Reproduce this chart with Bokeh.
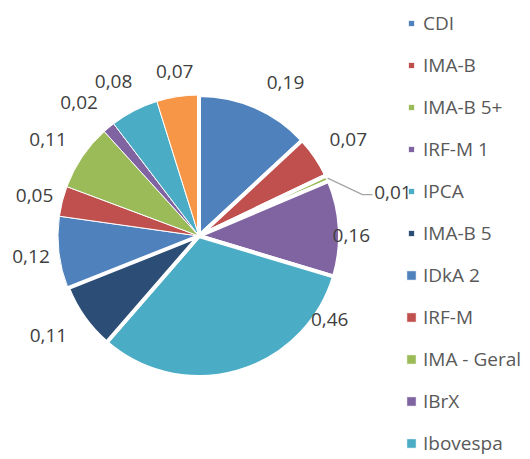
import numpy as np
from bokeh.plotting import figure
from bokeh.models import (ColumnDataSource, Legend, LegendItem, CDSView,
                          IndexFilter, Range1d)
from bokeh.embed import file_html
from bokeh.resources import INLINE
from bokeh.core.properties import value

# ---------------- data ----------------
categories = ["CDI", "IMA-B", "IMA-B 5+", "IRF-M 1", "IPCA", "IMA-B 5",
              "IDkA 2", "IRF-M", "IMA - Geral", "IBrX", "Ibovespa", "Outros"]
values = [0.19, 0.07, 0.01, 0.16, 0.46, 0.11, 0.12, 0.05, 0.11, 0.02, 0.08, 0.07]
colors = ["#4F81BD", "#C0504D", "#9BBB59", "#8064A2", "#4BACC6", "#2C4D75",
          "#4F81BD", "#C0504D", "#9BBB59", "#8064A2", "#4BACC6", "#F79646"]
legend_shown = 11  # the last legend entry is cut off in the original

# ---------------- label placement styling ----------------
label_nudge_deg = [5.8, 1.3, 11.5, 2.8, -41.3, 1.9, 0.0, -0.6, -1.6, -2.3, -1.7, 0.3]
label_rf = [1.25, 1.26, 1.41, 1.08, 1.10, 1.28, 1.20, 1.20, 1.27, 1.27, 1.25, 1.18]
leader_index = 2
leader_elbow_rf = 1.196
leader_elbow_nudge = 10.0
leader_tail = 10.0

# ---------------- geometry ----------------
W, H = 530, 459
IMG_H = 459
cx, cy, R = 198.5, IMG_H - 235.5, 141.0

vals = np.array(values, dtype=float)
frac = vals / vals.sum()
cum_end = np.cumsum(frac)
cum_start = cum_end - frac
start_angle = np.pi / 2 - 2 * np.pi * cum_start
end_angle = np.pi / 2 - 2 * np.pi * cum_end
mid_cw = (cum_start + frac / 2) * 360.0  # degrees clockwise from top

lab_cw = np.radians(mid_cw + np.array(label_nudge_deg))
lab_r = R * np.array(label_rf)
lab_x = cx + lab_r * np.sin(lab_cw)
lab_y = cy + lab_r * np.cos(lab_cw)
labels = [("%.2f" % v).replace(".", ",") for v in values]

line_w = [4 if i < 6 else 1 for i in range(len(values))]

src = ColumnDataSource(dict(cat=categories, val=values, color=colors,
                            start=start_angle, end=end_angle, lw=line_w))

p = figure(width=W, height=H, x_range=Range1d(0, W), y_range=Range1d(IMG_H - H, IMG_H),
           x_axis_type=None, y_axis_type=None, toolbar_location=None,
           output_backend="svg", title=None, min_border=0)
p.outline_line_color = None
p.grid.visible = False
p.background_fill_color = "white"
p.border_fill_color = "white"

r_all = p.wedge(x=cx, y=cy, radius=R, start_angle="start", end_angle="end",
                direction="clock", fill_color="color", line_color="#FFFFFF",
                line_width=1, source=src)
view_thick = CDSView(filter=IndexFilter(list(range(6))))
p.wedge(x=cx, y=cy, radius=R, start_angle="start", end_angle="end",
        direction="clock", fill_color="color", line_color="#FFFFFF",
        line_width=4, source=src, view=view_thick)

# leader line for the tiny slice
a0 = np.radians(mid_cw[leader_index])
a1 = np.radians(mid_cw[leader_index] + leader_elbow_nudge)
x0, y0 = cx + R * np.sin(a0), cy + R * np.cos(a0)
x1, y1 = cx + R * leader_elbow_rf * np.sin(a1), cy + R * leader_elbow_rf * np.cos(a1)
p.line([x0, x1, x1 + leader_tail], [y0, y1, y1], line_color="#A6A6A6", line_width=1.3)

lab_src = ColumnDataSource(dict(x=lab_x, y=lab_y, text=labels))
p.text(x="x", y="y", text="text", source=lab_src, text_align="center",
       text_baseline="middle", text_font=value("Open Sans"),
       text_font_size="19px", text_color="#404040")

# legends (two groups, as glyph sizes differ in the original)
ITEM_H = 26
def make_legend(idx, glyph, standoff, vx, vy, spacing):
    items = [LegendItem(label=categories[i], renderers=[r_all], index=i) for i in idx]
    lg = Legend(items=items, location=(vx, vy), orientation="vertical",
                glyph_width=glyph, glyph_height=glyph, label_standoff=standoff,
                label_height=ITEM_H, spacing=spacing, padding=0, margin=0,
                border_line_color=None, background_fill_alpha=0,
                label_text_font="Open Sans", label_text_font_size="19px",
                label_text_color="#595959")
    return lg

pitch = 42
first_c = 23
spacing = pitch - ITEM_H
idx_a = list(range(6))
idx_b = list(range(6, legend_shown))
top_a = first_c - ITEM_H / 2
h_a = len(idx_a) * ITEM_H + (len(idx_a) - 1) * spacing
top_b = first_c + len(idx_a) * pitch - ITEM_H / 2
h_b = len(idx_b) * ITEM_H + (len(idx_b) - 1) * spacing
leg_a = make_legend(idx_a, 8, 8, 407, H - (top_a + h_a), spacing)
leg_b = make_legend(idx_b, 12, 6, 405, H - (top_b + h_b), spacing)
p.add_layout(leg_a)
p.add_layout(leg_b)

open("out.html", "w").write(file_html(p, INLINE))
